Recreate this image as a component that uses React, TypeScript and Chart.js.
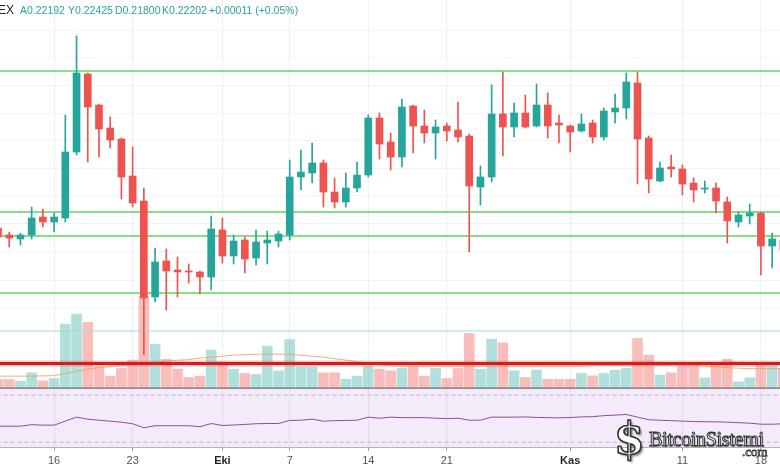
import React, { useEffect, useRef } from 'react';
import { Chart, registerables } from 'chart.js';

Chart.register(...registerables);

// Daily candles, index 0 = 11 Eylül (Sep 11) ... index 70 = 20 Kasım
const OPEN = [0.2228,0.2221,0.2217,0.2221,0.2239,0.2234,0.2238,0.2304,0.2382,0.2351,
  0.2328,0.2317,0.2280,0.2255,0.2159,0.2195,0.2186,0.2185,0.2184,0.2179,
  0.2226,0.2200,0.2216,0.2198,0.2213,0.2215,0.2221,0.2279,0.2283,0.2293,
  0.2264,0.2254,0.2268,0.2281,0.2338,0.2314,0.2299,0.2350,0.2330,0.2323,
  0.2330,0.2326,0.2320,0.2269,0.2279,0.2342,0.2329,0.2343,0.2330,0.2351,
  0.2333,0.2330,0.2325,0.2333,0.2319,0.2344,0.2348,0.2373,0.2318,0.2275,
  0.2289,0.2287,0.2273,0.2267,0.2268,0.2254,0.2234,0.2240,0.2243,0.2210,
  0.2216];
const HIGH = [0.2230,0.2224,0.2223,0.2249,0.2247,0.2243,0.2341,0.2420,0.2383,0.2352,
  0.2339,0.2318,0.2309,0.2268,0.2208,0.2207,0.2199,0.2192,0.2185,0.2240,
  0.2238,0.2221,0.2219,0.2226,0.2225,0.2225,0.2296,0.2306,0.2313,0.2296,
  0.2278,0.2283,0.2294,0.2341,0.2343,0.2323,0.2357,0.2351,0.2346,0.2336,
  0.2333,0.2354,0.2322,0.2290,0.2371,0.2384,0.2353,0.2361,0.2372,0.2363,
  0.2341,0.2331,0.2342,0.2336,0.2348,0.2362,0.2383,0.2384,0.2320,0.2294,
  0.2301,0.2291,0.2278,0.2275,0.2273,0.2259,0.2244,0.2252,0.2244,0.2223,
  0.2224];
const LOW = [0.2216,0.2209,0.2211,0.2217,0.2229,0.2224,0.2234,0.2301,0.2294,0.2299,
  0.2308,0.2257,0.2249,0.2101,0.2154,0.2146,0.2159,0.2173,0.2162,0.2166,
  0.2193,0.2192,0.2183,0.2191,0.2192,0.2209,0.2216,0.2266,0.2273,0.2249,
  0.2248,0.2249,0.2264,0.2279,0.2297,0.2286,0.2289,0.2303,0.2313,0.2297,
  0.2315,0.2314,0.2204,0.2251,0.2274,0.2300,0.2319,0.2328,0.2329,0.2318,
  0.2313,0.2304,0.2324,0.2313,0.2316,0.2333,0.2337,0.2272,0.2263,0.2274,
  0.2279,0.2261,0.2254,0.2263,0.2243,0.2213,0.2229,0.2232,0.2181,0.2188,
  0.2196];
const CLOSE = [0.2219,0.2218,0.2221,0.2238,0.2234,0.2239,0.2304,0.2383,0.2349,0.2327,
  0.2316,0.2279,0.2253,0.2158,0.2194,0.2185,0.2184,0.2184,0.2179,0.2227,
  0.2200,0.2215,0.2197,0.2214,0.2216,0.2222,0.2279,0.2284,0.2293,0.2264,
  0.2254,0.2268,0.2281,0.2338,0.2312,0.2299,0.2349,0.2330,0.2323,0.2329,
  0.2325,0.2319,0.2270,0.2279,0.2342,0.2329,0.2343,0.2329,0.2351,0.2330,
  0.2331,0.2324,0.2332,0.2319,0.2345,0.2348,0.2374,0.2317,0.2277,0.2288,
  0.2287,0.2272,0.2266,0.2268,0.2255,0.2235,0.2241,0.2243,0.2210,0.2217,
  0.2206];
// Volume (millions)
const VOLUME = [8.7,8.7,7,15.3,7.3,9.7,64,74,65.7,21.3,
  12,19.7,28,92,43.7,29,19,10.7,12,38,
  26.3,19,14.7,13.7,42,17.3,48.7,21.3,21.3,15.3,
  15.3,9,12,22,19,17.3,19.7,21.3,12,19.7,
  9.7,19.7,54.7,19,49,45.3,17.3,10.7,18,9,
  9,9,14.7,12.3,14.7,18,19.7,49.7,33,13,
  15.3,23,23,10.3,23,29,6.3,10.3,23,23,
  19.7];
const VOLUME_MA = [12,12,12,12,12.3,12.5,14.5,17,19,20.5,
  21.5,22.5,23.5,25,26,27,28,28.5,30,31,
  32,33,33.5,34,34,34,33.7,33,32,31,
  29.5,28,26.5,25,23.5,22.5,22,22,22,22,
  22,22,22,22,22,22,22,22,22,22,
  22,22,22,23,23,23,23,23,23,23,
  23,23,23,22,21,20.5,20,19.5,19.5,19.5,
  19.5];
const RSI = [43.6,43.6,43.6,44.9,44.5,44.5,47.9,51.3,49.6,48.7,
  47.9,47.0,45.7,42.3,44.0,44.0,44.0,44.0,43.2,45.9,
  44.2,44.6,45.1,45.7,45.9,45.9,48.5,48.7,49.6,47.9,
  48.3,48.5,48.7,51.3,50.4,51.3,50.9,50.9,50.9,50.4,
  50.0,50.4,48.7,48.7,51.3,51.3,51.3,51.5,51.1,50.9,
  50.7,51.0,51.5,51.7,52.6,53.0,53.6,51.3,49.1,48.7,
  48.3,47.9,47.6,47.4,47.3,47.0,46.6,46.2,45.3,45.3,
  45.7];

const TICK_POS = [5, 12, 20, 26, 33, 40, 51, 61, 68];
const TICK_LABELS = ['16', '23', 'Eki', '7', '14', '21', 'Kas', '11', '18'];
const MONTH_LABELS = ['Eki', 'Kas'];
const GRID_PRICES = [0.2426, 0.2398, 0.2371, 0.2343, 0.2315, 0.2288, 0.2260, 0.2232, 0.2204, 0.2176, 0.2148];
const GREEN_LEVELS = [0.2385, 0.2244, 0.2220, 0.2163];
const RED_LEVEL = 0.20925;
const TEAL_LEVEL = 0.2125;
const RSI_UPPER = 70;
const RSI_LOWER = 30;
const RSI_PANE_TOP = 75.1;
const RSI_SEPARATOR = 75.96;

const UP = '#26a69a';
const DOWN = '#ef5350';

export default function App() {
  const ref = useRef<HTMLCanvasElement>(null);

  useEffect(() => {
    if (!ref.current) return;
    const idx = OPEN.map((_, i) => i);
    const up = OPEN.map((o, i) => CLOSE[i] >= o);
    const candleColors = up.map((u) => (u ? UP : DOWN));
    const volColors = up.map((u) => (u ? 'rgba(38,166,154,0.36)' : 'rgba(239,83,80,0.38)'));
    const hline = (v: number) => [{ x: -2, y: v }, { x: 72, y: v }];
    const lineBase = { type: 'line' as const, pointRadius: 0, fill: false, tension: 0 };

    const datasets: any[] = [
      { ...lineBase, data: hline(RSI_PANE_TOP), yAxisID: 'yRsi', borderWidth: 0, fill: 'start', backgroundColor: 'rgba(150,60,210,0.11)', order: 100 },
      { type: 'bar', data: idx.map((i) => ({ x: i, y: VOLUME[i] })), yAxisID: 'yVol', backgroundColor: volColors, barThickness: 10, grouped: false, borderWidth: 0, order: 90 },
      { ...lineBase, data: idx.map((i) => ({ x: i, y: VOLUME_MA[i] })), yAxisID: 'yVol', borderColor: 'rgba(240,160,100,0.85)', borderWidth: 1, order: 80 },
      { ...lineBase, data: hline(TEAL_LEVEL), yAxisID: 'y', borderColor: '#a6d8d3', borderWidth: 1, order: 75 },
      { ...lineBase, data: hline(RED_LEVEL), yAxisID: 'y', borderColor: 'rgba(235,90,90,0.35)', borderWidth: 6, order: 71 },
      { ...lineBase, data: hline(RED_LEVEL), yAxisID: 'y', borderColor: '#d11f1f', borderWidth: 3, order: 70 },
      ...GREEN_LEVELS.map((v) => ({ ...lineBase, data: hline(v), yAxisID: 'y', borderColor: '#5ad65a', borderWidth: 1.6, order: 60 })),
      { type: 'bar', data: idx.map((i) => ({ x: i, y: [LOW[i], HIGH[i]] })), yAxisID: 'y', backgroundColor: candleColors, barThickness: 1, grouped: false, borderWidth: 0, order: 50 },
      { type: 'bar', data: idx.map((i) => ({ x: i, y: [OPEN[i], CLOSE[i]] })), yAxisID: 'y', backgroundColor: candleColors, barThickness: 7, minBarLength: 1, grouped: false, borderWidth: 0, order: 40 },
      { ...lineBase, data: hline(RSI_UPPER), yAxisID: 'yRsi', borderColor: '#c7b2d2', borderWidth: 1, borderDash: [4, 3], order: 30 },
      { ...lineBase, data: hline(RSI_LOWER), yAxisID: 'yRsi', borderColor: '#c7b2d2', borderWidth: 1, borderDash: [4, 3], order: 30 },
      { ...lineBase, data: hline(RSI_SEPARATOR), yAxisID: 'yRsi', borderColor: '#6e6e6e', borderWidth: 1.3, order: 20 },
      { ...lineBase, data: idx.map((i) => ({ x: i, y: RSI[i] })), yAxisID: 'yRsi', borderColor: '#8c4d9e', borderWidth: 1, order: 10 },
    ];

    const chart = new Chart(ref.current, {
      type: 'bar',
      data: { datasets },
      options: {
        responsive: false,
        animation: false,
        devicePixelRatio: 1,
        layout: { padding: { left: 0, right: 0, top: 0, bottom: 0 } },
        plugins: { legend: { display: false }, tooltip: { enabled: false } },
        scales: {
          x: {
            type: 'linear',
            min: 0.178,
            max: 69.7,
            offset: false,
            position: 'bottom',
            afterBuildTicks: (ax: any) => {
              ax.ticks = TICK_POS.map((v) => ({ value: v }));
            },
            afterFit: (ax: any) => {
              ax.height = 23;
            },
            ticks: {
              autoSkip: false,
              maxRotation: 0,
              padding: 3,
              color: (ctx: any) => (MONTH_LABELS.includes(TICK_LABELS[ctx.index]) ? '#1e222d' : '#50535e'),
              font: (ctx: any) => ({
                family: '"Liberation Sans", Arial, sans-serif',
                size: 11,
                weight: MONTH_LABELS.includes(TICK_LABELS[ctx.index]) ? 'bold' : 'normal',
              }),
              callback: (v: any) => {
                const k = TICK_POS.indexOf(Number(v));
                return k >= 0 ? TICK_LABELS[k] : '';
              },
            },
            grid: { offset: false, color: 'rgba(42,46,57,0.08)', tickLength: 4, tickColor: '#9a9a9a', drawTicks: true },
            border: { display: true, color: '#b4b4b4', width: 1 },
          },
          y: {
            position: 'left',
            min: 0.2009,
            max: 0.2456,
            afterBuildTicks: (ax: any) => {
              ax.ticks = GRID_PRICES.map((v) => ({ value: v }));
            },
            afterFit: (ax: any) => {
              ax.width = 0;
            },
            ticks: { display: false },
            grid: { color: 'rgba(42,46,57,0.06)', drawTicks: false },
            border: { display: false },
          },
          yVol: { display: false, min: -58.8, max: 388 },
          yRsi: { display: false, min: 25.91, max: 406.17 },
        },
      } as any,
    });
    return () => chart.destroy();
  }, []);

  const hdr: React.CSSProperties = {
    position: 'absolute',
    top: 4,
    font: '10.5px "Liberation Sans", Arial, sans-serif',
    color: '#2aa598',
    whiteSpace: 'nowrap',
  };

  return (
    <div style={{ position: 'fixed', left: 0, top: 0, width: 780, height: 470, background: '#fff', overflow: 'hidden' }}>
      <canvas ref={ref} width={780} height={470} style={{ display: 'block', width: 780, height: 470 }} />
      <span style={{ ...hdr, left: -2, top: 3, font: '12px "Liberation Sans", Arial, sans-serif', color: '#222' }}>EX</span>
      <span style={{ ...hdr, left: 20 }}>A0.22192</span>
      <span style={{ ...hdr, left: 68 }}>Y0.22425</span>
      <span style={{ ...hdr, left: 115 }}>D0.21800</span>
      <span style={{ ...hdr, left: 162 }}>K0.22202</span>
      <span style={{ ...hdr, left: 209 }}>+0.00011 (+0.05%)</span>
      <span
        style={{
          position: 'absolute',
          left: 614,
          top: 414,
          font: 'bold 44px "DejaVu Serif", serif',
          color: '#fff',
          WebkitTextStroke: '1.6px #333',
          textShadow: '2px 2px 2px rgba(0,0,0,0.45)',
          lineHeight: '50px',
        }}
      >
        $
      </span>
      <span
        style={{
          position: 'absolute',
          left: 649,
          top: 427,
          font: '20px "Liberation Serif", "DejaVu Serif", serif',
          color: '#fff',
          WebkitTextStroke: '1px #333',
          textShadow: '1px 1px 1px rgba(0,0,0,0.4)',
          letterSpacing: '-0.3px',
          lineHeight: '24px',
        }}
      >
        BitcoinSistemi
      </span>
      <span
        style={{
          position: 'absolute',
          left: 742,
          top: 444,
          font: '13px "Liberation Serif", "DejaVu Serif", serif',
          color: '#fff',
          WebkitTextStroke: '0.8px #333',
          lineHeight: '15px',
        }}
      >
        .com
      </span>
    </div>
  );
}
